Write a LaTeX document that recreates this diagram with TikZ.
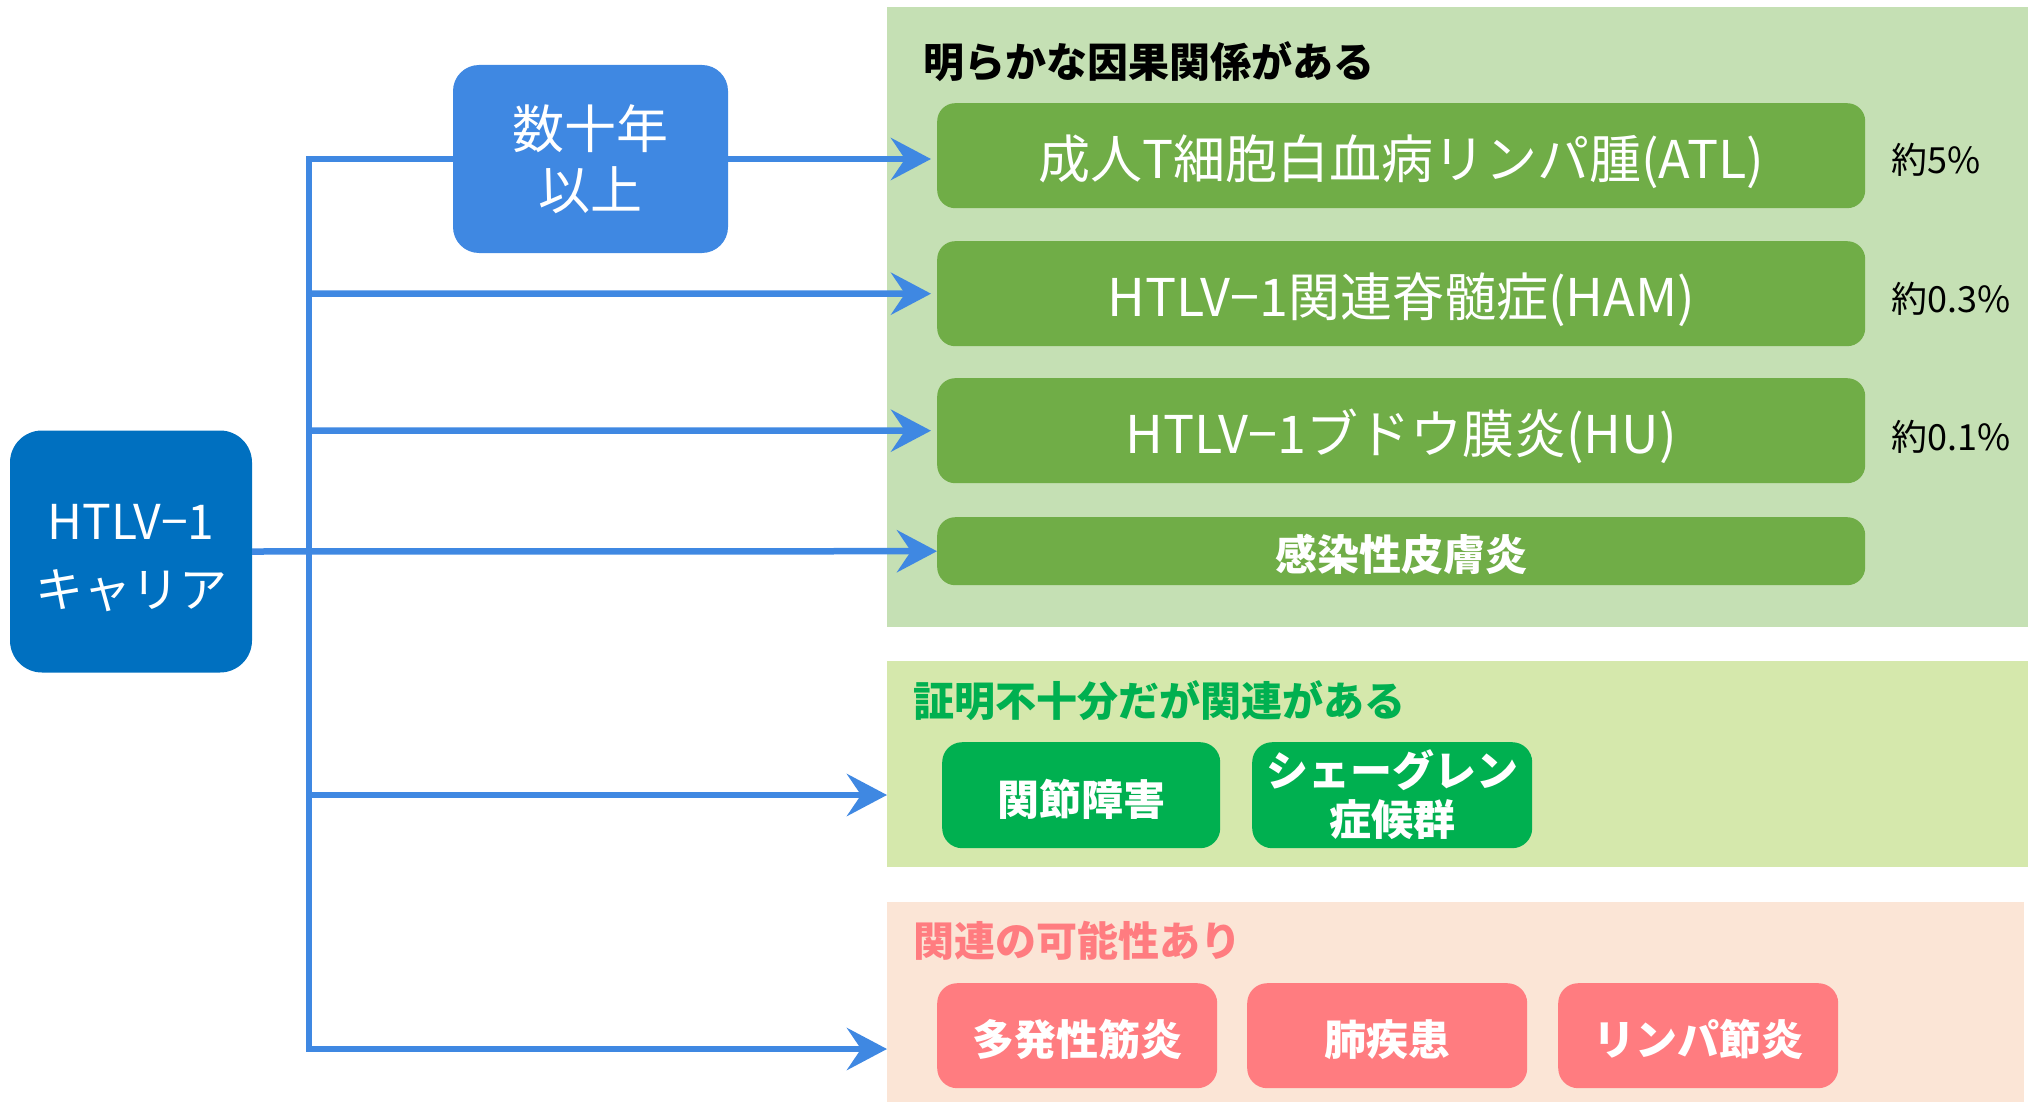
\documentclass[tikz,border=0pt]{standalone}
\usepackage{fontspec}
\setmainfont{Noto Sans CJK JP}
\usetikzlibrary{arrows.meta}
\definecolor{pA}{HTML}{C5E0B4}
\definecolor{pB}{HTML}{D5E8AC}
\definecolor{pC}{HTML}{FBE5D6}
\definecolor{gA}{HTML}{70AD47}
\definecolor{gB}{HTML}{00B050}
\definecolor{rC}{HTML}{FF7C80}
\definecolor{dblue}{HTML}{0070C0}
\definecolor{lblue}{HTML}{3F88E2}
\newcommand\dn[2]{\raisebox{-#1}[\height][\depth]{#2}}
\newcommand\twol[2]{\begin{tabular}{@{}c@{}}#1\\#2\end{tabular}}
\begin{document}
\begin{tikzpicture}[x=1pt,y=-1pt,
  panel/.style={rectangle, draw=none, inner sep=0pt, anchor=north west},
  ptitle/.style={anchor=west, inner sep=0pt, font=\fontsize{41}{48}\selectfont\bfseries},
  bigbox/.style={rectangle, rounded corners=18pt, fill=gA, draw=none, text=white, anchor=north west,
     minimum width=928pt, inner sep=0pt, font=\fontsize{52}{60}\selectfont},
  smallbox/.style={rectangle, rounded corners=20pt, draw=none, text=white, anchor=north west,
     minimum width=280pt, minimum height=105pt, inner sep=0pt,
     font=\fontsize{42}{47}\selectfont\bfseries},
  pct/.style={anchor=west, inner sep=0pt, font=\fontsize{36}{40}\selectfont},
  ln/.style={draw=lblue, line width=6.5pt},
  arr/.style={draw=lblue, line width=6.5pt, -{Stealth[length=40pt,width=42pt,inset=14pt]}}
]
\useasboundingbox (0,0) rectangle (2028,1102);
% panels
\node[panel, fill=pA, minimum width=1141pt, minimum height=620pt] (p1) at (887,7) {};
\node[panel, fill=pB, minimum width=1141pt, minimum height=206pt] (p2) at (887,661) {};
\node[panel, fill=pC, minimum width=1137pt, minimum height=200pt] (p3) at (887,902) {};
% titles
\node[ptitle, text=black] (t1) at (923,62) {明らかな因果関係がある};
\node[ptitle, text=gB] (t2) at (913,701) {証明不十分だが関連がある};
\node[ptitle, text=rC] (t3) at (913,941) {関連の可能性あり};
% panel 1 boxes
\node[bigbox, minimum height=105pt] (atl) at (937,103) {\dn{6pt}{成人T細胞白血病リンパ腫(ATL)}};
\node[bigbox, minimum height=105pt] (ham) at (937,241) {\dn{6pt}{HTLV−1関連脊髄症(HAM)}};
\node[bigbox, minimum height=105pt] (hu) at (937,378) {\dn{6pt}{HTLV−1ブドウ膜炎(HU)}};
\node[bigbox, minimum height=68pt, font=\fontsize{42}{48}\selectfont\bfseries] (inf) at (937,517) {\dn{3pt}{感染性皮膚炎}};
\node[pct] (c1) at (1891,160) {約5\%};
\node[pct] (c2) at (1891,299) {約0.3\%};
\node[pct] (c3) at (1891,437) {約0.1\%};
% panel 2 boxes
\node[smallbox, fill=gB, minimum width=278pt, minimum height=106pt] (joint) at (942,742) {\dn{4pt}{関節障害}};
\node[smallbox, fill=gB, minimum height=106pt, font=\fontsize{42}{45}\selectfont\bfseries] (sjog) at (1252,742) {\dn{4pt}{\twol{シェーグレン}{症候群}}};
% panel 3 boxes
\node[smallbox, fill=rC] (myo) at (937,983) {\dn{4pt}{多発性筋炎}};
\node[smallbox, fill=rC] (lung) at (1247,983) {\dn{4pt}{肺疾患}};
\node[smallbox, fill=rC] (lymph) at (1558,983) {\dn{4pt}{リンパ節炎}};
% carrier
\node[rectangle, rounded corners=32pt, fill=dblue, text=white, minimum width=242pt, minimum height=242pt,
  inner sep=0pt, font=\fontsize{48}{68}\selectfont] (carrier) at (131,551.5) {\dn{8pt}{\twol{HTLV−1}{キャリア}}};
% trunk coordinates
\coordinate (k1) at (309,159);
\coordinate (k2) at (309,293.5);
\coordinate (k3) at (309,430.5);
\coordinate (k5) at (309,795);
\coordinate (k6) at (309,1049);
% connectors
\draw[ln, line cap=rect] (k1) -- (k6);
\draw[arr] (k2) -- ([xshift=-6pt]ham.west);
\draw[arr] (k3) -- ([xshift=-6pt]hu.west);
\draw[arr] (carrier.east) -- (inf.west);
\draw[arr] (k5) -- (k5 -| p2.west);
\draw[arr] (k6) -- (k6 -| p3.west);
% decade box
\node[rectangle, rounded corners=26pt, fill=lblue, text=white, minimum width=275pt, minimum height=188pt,
  inner sep=0pt, font=\fontsize{52}{60}\selectfont] (decade) at (590.5,159) {\dn{7pt}{\twol{数十年}{以上}}};
\draw[ln] (k1) -- (decade.west);
\draw[arr] (decade.east) -- ([xshift=-6pt]decade.east -| atl.west);
\end{tikzpicture}
\end{document}
